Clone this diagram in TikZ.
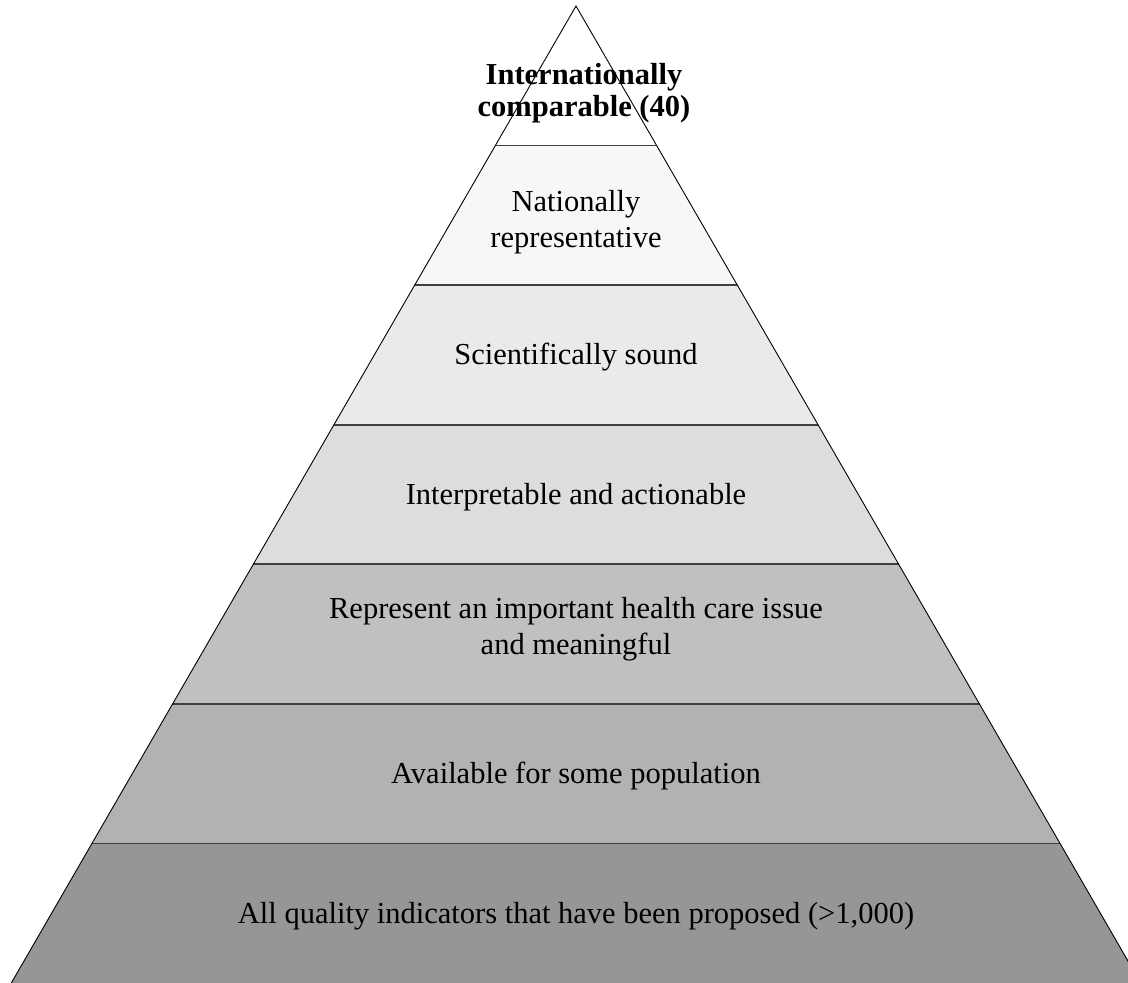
\documentclass[tikz,border=0pt]{standalone}
\usepackage{fontspec}
\setmainfont{Liberation Serif}
\begin{document}
\begin{tikzpicture}[x=1pt,y=-1pt,
  layer/.style={draw=none},
  divider/.style={draw=black!75,line width=1.8pt},
  outline/.style={draw=black,line width=0.9pt,line join=miter},
  label/.style={align=center,font=\fontsize{30.5}{36}\selectfont,inner sep=0pt}]
\useasboundingbox (0,0) rectangle (1128,983);
\clip (0,0) rectangle (1128,983);
% apex and slope of the sides
\def\ax{576}\def\ay{6}\def\sl{0.578}\def\hh{139.57}
\colorlet{c1}{white}
\definecolor{c2}{HTML}{F7F7F7}
\definecolor{c3}{HTML}{EAEAEA}
\definecolor{c4}{HTML}{DDDDDD}
\definecolor{c5}{HTML}{C0C0C0}
\definecolor{c6}{HTML}{B2B2B2}
\definecolor{c7}{HTML}{969696}
% filled bands, top to bottom
\foreach \k in {1,...,7}{
  \pgfmathsetmacro{\ya}{\ay+(\k-1)*\hh}
  \pgfmathsetmacro{\yb}{\ay+\k*\hh}
  \pgfmathsetmacro{\wa}{(\ya-\ay)*\sl}
  \pgfmathsetmacro{\wb}{(\yb-\ay)*\sl}
  \fill[layer,fill=c\k] (\ax-\wa,\ya) -- (\ax+\wa,\ya) -- (\ax+\wb,\yb) -- (\ax-\wb,\yb) -- cycle;
}
% band dividers
\foreach \k in {1,...,6}{
  \pgfmathsetmacro{\yb}{\ay+\k*\hh}
  \pgfmathsetmacro{\wb}{(\yb-\ay)*\sl}
  \draw[divider] (\ax-\wb,\yb) -- (\ax+\wb,\yb);
}
% outline of the pyramid
\pgfmathsetmacro{\wbase}{(983+20-\ay)*\sl}
\coordinate (apex) at (\ax,\ay);
\coordinate (bl) at (\ax-\wbase,1003);
\coordinate (br) at (\ax+\wbase,1003);
\draw[outline] (bl) -- (apex) -- (br);
% labels
\node[label,font=\fontsize{30.5}{32}\selectfont\bfseries] (l1) at (584,93) {Internationally\\comparable (40)};
\node[label] (l2) at (576,222) {Nationally\\representative};
\node[label] (l3) at (576,357) {Scientifically sound};
\node[label] (l4) at (576,497) {Interpretable and actionable};
\node[label] (l5) at (576,629) {Represent an important health care issue\\and meaningful};
\node[label] (l6) at (576,776) {Available for some population};
\node[label] (l7) at (576,916) {All quality indicators that have been proposed (>1,000)};
\end{tikzpicture}
\end{document}
